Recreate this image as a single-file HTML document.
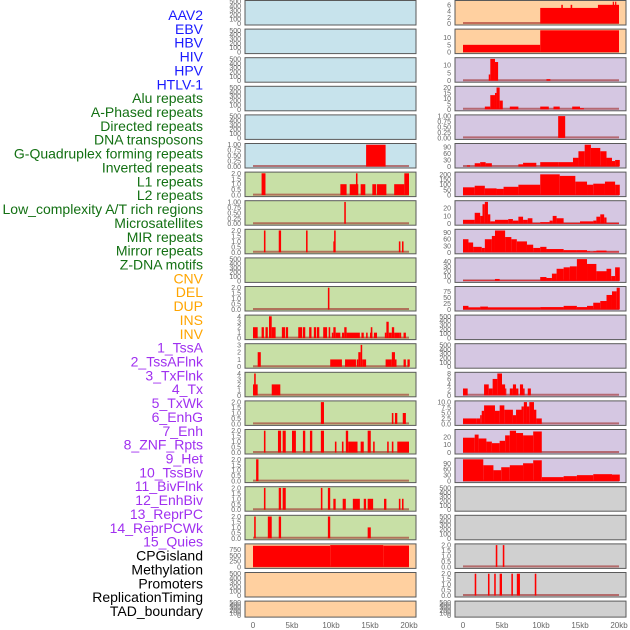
<!DOCTYPE html>
<html><head><meta charset="utf-8"><style>
html,body{margin:0;padding:0;background:#fff;}
svg{display:block;font-family:"Liberation Sans",sans-serif;}
</style></head><body>
<svg id="chart" width="630" height="630" viewBox="0 0 630 630"></svg>
<script>
// ---- data: track names (column-major: left column 22, right column 22) ----
const trackNames = ["AAV2","EBV","HBV","HIV","HPV","HTLV-1","Alu repeats","A-Phased repeats","Directed repeats","DNA transposons","G-Quadruplex forming repeats","Inverted repeats","L1 repeats","L2 repeats","Low_complexity A/T rich regions","Microsatellites","MIR repeats","Mirror repeats","Z-DNA motifs","CNV","DEL","DUP","INS","INV","1_TssA","2_TssAFlnk","3_TxFlnk","4_Tx","5_TxWk","6_EnhG","7_Enh","8_ZNF_Rpts","9_Het","10_TssBiv","11_BivFlnk","12_EnhBiv","13_ReprPC","14_ReprPCWk","15_Quies","CPGisland","Methylation","Promoters","ReplicationTiming","TAD_boundary"];
const trackGroups = ["virus","virus","virus","virus","virus","virus","repeat","repeat","repeat","repeat","repeat","repeat","repeat","repeat","repeat","repeat","repeat","repeat","repeat","sv","sv","sv","sv","sv","hmm","hmm","hmm","hmm","hmm","hmm","hmm","hmm","hmm","hmm","hmm","hmm","hmm","hmm","hmm","other","other","other","other","other"];
const xTickLabels = ["0","5kb","10kb","15kb","20kb"];
const xTickValues = [0,5,10,15,20];
const T500 = ["0","100","200","300","400","500"];
const T1 = ["0.00","0.25","0.50","0.75","1.00"];
const T2 = ["0.0","0.5","1.0","1.5","2.0"];
// tick labels per track
const trackTicks = [T500,T500,T500,T500,T500,T1,T2,T1,T2,T500,T2,["0","1","2","3","4"],["0","1","2","3"],["0","1","2","3","4"],T2,T2,T2,T2,T2,["0","250","500","750"],T500,T500,
 ["0","2","4","6"],["0","5","10"],["0","5","10"],["0","5","10","15","20"],T1,["0","30","60","90"],["0","50","100","150","200"],["0","10","20"],["0","30","60","90"],["0","10","20","30","40"],["0","25","50","75"],T500,T500,["0","2","4","6","8"],["0.0","2.5","5.0","7.5","10.0"],["0","10","20"],["0","30","60","90"],T500,T500,T2,T2,T500];
// axis max per track
const trackMax = [500,500,500,500,500,1,2,1,2,500,2,4,3,4,2,2,2,2,2,950,500,500,
 7,15,14,20,1,100,210,28,100,45,90,500,500,8,10,28,110,500,500,2,2,500];
// ---- series: segments [startKb, endKb, value] ----
const s_HTLV1 = [[14.5,17.0,1]];
const s_Alu = [[1.1,1.6,2],[11.2,12.0,1],[12.4,13.5,1],[13.2,13.4,2],[13.8,14.4,1],[15.3,15.8,1],[15.9,17.1,1],[18.1,19.4,1],[19.4,20,2]];
const s_APhased = [[11.7,11.9,1]];
const s_Directed = [[1.4,1.6,2],[3.3,3.6,2],[6.8,7.0,2],[10.3,10.4,1],[10.4,10.6,2],[18.7,18.9,1],[19.1,19.3,1]];
const s_GQuad = [[9.6,9.8,2]];
const s_Inverted = [[0,0.6,2],[1.1,1.4,2],[1.6,1.9,2],[2.05,2.4,4],[2.4,2.9,2],[3.7,4.1,2],[4.2,4.5,2],[5.8,6.3,2],[6.4,6.7,2],[7.2,7.5,2],[7.8,8.1,2],[8.2,8.5,2],[9.0,9.5,2],[9.7,9.9,2],[10.1,10.3,1],[10.3,10.6,2],[10.6,11.2,1],[11.4,11.7,1],[11.7,12.0,2],[12.0,13.7,1],[13.9,14.2,1],[14.5,14.7,1],[15.0,15.3,1],[15.1,15.3,2],[15.5,15.9,1],[16.9,17.1,1],[17.1,17.4,3],[17.4,17.8,1],[17.8,18.1,2],[18.1,18.8,1],[18.8,19.0,1],[19.3,19.6,1]];
const s_L1 = [[0.6,1.0,2],[9.9,11.4,1],[11.8,13.2,1],[13.3,13.5,1],[13.5,13.8,2],[13.8,14.0,3],[14.0,14.5,1],[17.0,17.8,1],[17.8,18.2,2],[18.2,18.4,1],[19.3,19.6,1],[19.8,20.1,1]];
const s_L2 = [[0,0.6,2],[0.15,0.35,4],[2.4,3.5,2]];
const s_LowCx = [[8.7,9.1,2],[17.8,18.0,1],[18.2,18.5,1],[19.2,19.6,1]];
const s_Microsat = [[1.4,1.6,2],[3.2,3.6,2],[3.8,4.2,2],[5.0,5.5,2],[6.4,6.7,2],[7.3,7.6,2],[8.7,9.1,2],[10.5,10.7,1],[11.4,11.6,1],[11.9,12.2,2],[12.2,13.4,1],[13.8,14.2,1],[14.7,15.1,2],[15.4,15.6,1],[17.2,17.4,1],[17.8,18.0,1],[18.5,20.0,1]];
const s_MIR = [[0.4,0.7,2]];
const s_Mirror = [[1.4,1.6,2],[3.3,3.6,2],[3.8,4.2,2],[8.7,8.9,2],[9.6,9.9,2],[10.3,10.6,1],[11.5,11.9,1],[12.8,13.7,1],[14.2,14.5,1],[14.7,15.4,1],[16.8,17.1,1],[18.7,18.9,1],[19.1,19.3,1]];
const s_ZDNA = [[0.15,0.35,2],[1.9,2.4,2],[3.3,3.6,2],[9.6,9.9,2],[14.7,15.1,1]];
const s_CNV = [[0,9.9,920],[9.9,16.7,950],[16.7,20,930]];
const s_INS = [[9.9,20,5],[12.6,12.8,6],[13.8,14.0,6],[17.3,19.1,6],[19.1,20,6],[19.2,19.3,7],[19.5,19.6,7]];
const s_INV = [[0,9.9,5],[9.9,20,15]];
const s_TssA = [[3.3,3.5,4],[3.5,4.1,14],[4.1,4.5,12],[10.7,11.2,1]];
const s_TssAFlnk = [[2.8,3.5,2.5],[3.5,4.1,13],[4.1,4.3,15],[4.3,4.7,20],[4.7,5.1,8],[6.0,7.1,2.5],[9.9,11.0,2.5],[11.6,12.4,2.5],[14.0,15.0,2.5],[15.0,15.5,1]];
const s_Tx = [[0.5,0.9,5],[1.5,2.2,15],[2.2,2.9,20],[2.9,3.7,15],[7.1,7.7,10],[7.7,9.4,17],[9.9,12.2,20],[12.2,14.1,20],[14.1,14.8,40],[14.8,15.6,70],[15.6,16.4,100],[16.4,17.6,85],[17.6,18.4,70],[18.4,19.1,40],[19.1,19.5,25],[19.5,20.1,30]];
const s_TxWk = [[0,1.5,75],[1.5,2.8,90],[2.8,4.3,65],[4.3,5.2,60],[5.2,7.1,80],[7.1,9.9,100],[9.9,12.4,200],[12.4,14.4,185],[14.4,15.9,130],[15.9,16.7,100],[16.7,18.2,110],[18.2,19.5,130],[19.5,20.1,100]];
const s_EnhG = [[0,1.5,5],[1.5,2.2,14],[2.2,2.5,10],[2.5,2.8,25],[2.8,3.2,28],[3.2,3.5,12],[3.5,4.1,3],[4.1,5.8,5],[5.8,6.4,6],[6.4,7.1,4],[7.1,7.7,9],[7.7,8.3,5],[8.3,8.9,7],[8.9,9.9,1],[9.9,11.1,2],[11.1,11.5,4],[11.5,12.0,10],[12.0,12.9,7],[12.9,15.0,1],[15.0,16.7,3],[16.7,17.1,4],[17.1,17.6,9],[17.6,18.1,12],[18.1,18.4,8],[18.4,20.0,1]];
const s_Enh = [[0,0.7,60],[0.7,1.3,45],[1.3,2.4,25],[2.4,2.8,20],[2.8,3.7,60],[3.7,4.1,75],[4.1,5.4,100],[5.4,6.2,70],[6.2,6.9,60],[6.9,8.2,50],[8.2,9.0,35],[9.0,9.9,20],[9.9,10.7,25],[10.7,12.9,15],[12.9,14.6,10],[14.6,15.9,10],[15.9,16.3,5],[16.3,16.7,3],[16.7,17.1,5],[17.1,18.4,8],[18.4,20.0,3]];
const s_ZNF = [[0,4.1,1],[4.1,4.7,4],[4.7,9.9,1],[9.9,10.7,8],[10.7,11.4,6],[11.4,12.0,15],[12.0,12.9,25],[12.9,13.7,28],[13.7,14.6,30],[14.6,15.9,45],[15.9,17.1,35],[17.1,18.4,20],[18.4,19.0,25],[19.0,19.5,10],[19.5,20.1,28]];
const s_Het = [[0,0.7,15],[0.7,2.2,9],[2.2,3.2,12],[3.2,9.9,9],[9.9,12.9,10],[12.9,14.6,15],[14.6,15.9,10],[15.9,16.7,15],[16.7,17.6,28],[17.6,18.4,35],[18.4,19.1,60],[19.1,19.7,75],[19.7,20.1,90]];
const s_EnhBiv = [[0,0.6,2.5],[2.7,3.3,4],[3.3,3.8,2.5],[3.8,4.4,6],[4.4,5.0,8],[5.0,5.4,4],[5.4,5.5,2.5],[6.0,6.4,2.5],[6.4,6.8,4],[6.8,7.1,2.5],[7.3,7.7,4],[7.7,7.9,2.5],[8.3,8.7,2.5]];
const s_ReprPC = [[0,1.7,2.5],[1.7,2.2,2.5],[2.2,2.4,4],[2.4,2.7,6],[2.7,4.1,8.5],[4.1,4.7,6],[4.7,5.3,8.5],[5.3,6.4,6.5],[6.4,6.8,4],[6.8,7.5,6.5],[7.5,7.8,8],[7.8,8.2,10],[8.2,8.5,8],[8.5,9.1,10],[9.1,9.4,6.5],[9.4,10.1,2.5]];
const s_ReprPCWk = [[0,1.5,19],[1.5,2.0,23],[2.0,3.0,18],[3.0,3.7,14],[3.7,4.7,12],[4.7,5.4,15],[5.4,6.0,22],[6.0,6.8,28],[6.8,7.7,25],[7.7,9.0,22],[9.0,10.1,27]];
const s_Quies = [[0,2.6,110],[2.6,3.9,80],[3.9,4.9,55],[4.9,6.0,70],[6.0,7.7,80],[7.7,9.0,90],[9.0,10.1,105],[10.1,12.9,20],[12.9,14.6,25],[14.6,16.7,30],[16.7,19.1,35],[19.1,20.1,33]];
const s_Promoters = [[4.2,4.4,2],[5.1,5.3,2]];
const s_RepTiming = [[1.5,1.7,2],[3.2,3.4,2],[4.0,4.2,2],[4.7,5.0,2],[6.2,6.4,2],[6.9,7.3,2],[9.2,9.4,2]];
const trackSeries = [[],[],[],[],[],s_HTLV1,s_Alu,s_APhased,s_Directed,[],s_GQuad,s_Inverted,s_L1,s_L2,s_LowCx,s_Microsat,s_MIR,s_Mirror,s_ZDNA,s_CNV,[],[],
 s_INS,s_INV,s_TssA,s_TssAFlnk,[[12.2,13.1,1]],s_Tx,s_TxWk,s_EnhG,s_Enh,s_ZNF,s_Het,[],[],s_EnhBiv,s_ReprPC,s_ReprPCWk,s_Quies,[],[],s_Promoters,s_RepTiming,[]];

// ---- rendering ----
const NS = "http://www.w3.org/2000/svg";
const svg = document.getElementById("chart");
const bgColors = {virus:"#c7e3ec",repeat:"#c8e0a6",sv:"#ffd0a0",hmm:"#d5c7e2",other:"#d0d0d0"};
const labelColors = {virus:"#1a1aff",repeat:"#137013",sv:"#ffa500",hmm:"#a030f0",other:"#000000"};
function mk(tag, attrs){const e=document.createElementNS(NS,tag);for(const k in attrs)e.setAttribute(k,attrs[k]);return e;}
const colLeft = [245,455], colW = 171, pitch = 28.6;
function xScale(col, kb){return colLeft[col] + 8 + kb*7.8;}

// labels
trackNames.forEach((n,i)=>{
  const t = mk("text",{x:203,y:15+i*13.86+5,"text-anchor":"end","font-size":"14",fill:labelColors[trackGroups[i]]});
  t.textContent = n;
  
  
  svg.appendChild(t);
});

trackNames.forEach((n,i)=>{
  const col = i<22?0:1, row = i%22;
  const top = row*pitch + 0.5;
  const h = row===21 ? 16 : 24.5;
  const y0 = top + h - 1.5, y1 = top + 1.2;
  const yMax = trackMax[i];
  const yScale = v => y0 - (v / yMax) * (y0 - y1);
  const g = mk("g",{});
  
  
  const bg = mk("rect",{x:colLeft[col],y:top,width:colW,height:h,fill:bgColors[trackGroups[i]],stroke:"#5a5a5a","stroke-width":"1"});
  
  
  g.appendChild(bg);
  // y ticks
  const ticks = trackTicks[i];
  ticks.forEach(lbl=>{
    const v = parseFloat(lbl);
    const tt = mk("text",{x:colLeft[col]-4,y:yScale(v)+2.5,"text-anchor":"end","font-size":"7",fill:"#666"});
    tt.textContent = lbl;
    
    
    g.appendChild(tt);
  });
  const series = trackSeries[i];
  if(series.length){
    const base = mk("line",{x1:xScale(col,0),x2:xScale(col,20),y1:y0-0.5,y2:y0-0.5,stroke:"rgba(160,40,40,0.6)","stroke-width":"2"});
    
    
    g.appendChild(base);
  }
  series.forEach(s=>{
    const xa = xScale(col,s[0]), xb = xScale(col,s[1]);
    const yt = yScale(s[2]);
    const r = mk("rect",{x:xa,y:yt,width:Math.max(1.2,xb-xa),height:Math.max(0,y0-yt),fill:"#ff0000"});
    
    
    g.appendChild(r);
  });
  svg.appendChild(g);
});

// x axis labels
[0,1].forEach(col=>{
  xTickValues.forEach((v,k)=>{
    const t = mk("text",{x:xScale(col,v),y:628,"text-anchor":"middle","font-size":"8",fill:"#666"});
    t.textContent = xTickLabels[k];
    
    
    svg.appendChild(t);
  });
});
</script>
</body></html>
